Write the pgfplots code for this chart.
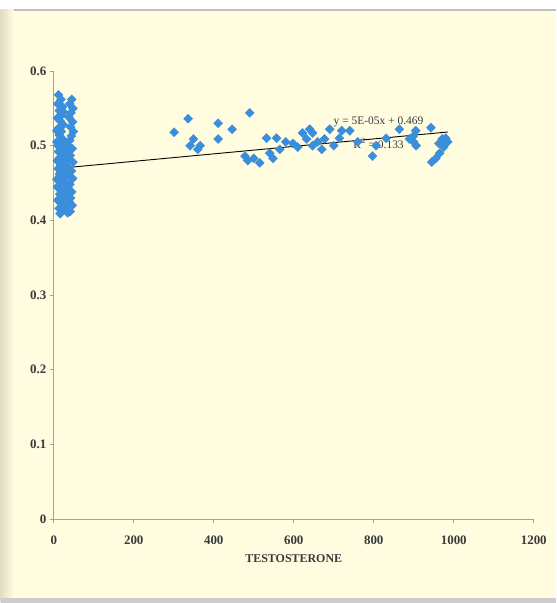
\documentclass[border=0pt]{standalone}
\usepackage{pgfplots}
\pgfplotsset{compat=1.18}
\usepackage{fontspec}
\setmainfont{Liberation Serif}

\definecolor{bgcol}{HTML}{FFFCE0}
\definecolor{ptblue}{HTML}{3A8EDB}
\definecolor{axgrey}{HTML}{A0A0A0}
\definecolor{txt}{HTML}{3A3A3A}

\begin{document}
\begin{tikzpicture}
% page background (scanned slide look)
\fill[bgcol] (-53bp,-84bp) rectangle (502bp,519bp);
\fill[white] (-53bp,510bp) rectangle (502bp,519bp);
\draw[line width=1.5bp, black!25] (-53bp,509bp) -- (502bp,509bp);
\shade[left color=black!12!bgcol, right color=bgcol] (-53bp,-84bp) rectangle (-40bp,509bp);
\fill[black!20] (-53bp,-84bp) rectangle (502bp,-79bp);

\begin{axis}[%
width=480bp,
height=448bp,
at={(0,0)},
scale only axis,
xmin=0,
xmax=1200,
ymin=0,
ymax=0.6,
xtick={0,200,...,1200},
ytick={0,0.1,...,0.6},
yticklabels={0,0.1,0.2,0.3,0.4,0.5,0.6},
xticklabel style={/pgf/number format/1000 sep={}, yshift=-9bp},
axis x line*=bottom,
axis y line*=left,
axis line style={axgrey, line width=0.8pt},
tick style={axgrey, line width=0.8pt},
tick align=outside,
major tick length=4bp,
tick label style={font=\fontsize{13}{15}\selectfont\bfseries, text=txt},
/pgf/number format/assume math mode=true,
xlabel={\textbf{TESTOSTERONE}},
xlabel style={font=\fontsize{12}{14}\selectfont, text=txt, yshift=-3bp},
]
% low group
\addplot[only marks, mark=square*, mark size=3.2pt, mark options={rotate=45, ptblue, draw=ptblue}] coordinates {
(12,0.568) (18,0.562) (10,0.556) (22,0.552) (14,0.547) (20,0.541) (9,0.537)
(16,0.533) (24,0.528) (11,0.523) (19,0.519) (14,0.514) (22,0.509) (8,0.505)
(17,0.500) (25,0.496) (12,0.492) (20,0.488) (15,0.484) (9,0.480) (23,0.477)
(18,0.473) (11,0.469) (26,0.466) (14,0.462) (21,0.458) (8,0.455) (17,0.451)
(24,0.447) (12,0.443) (19,0.439) (15,0.435) (22,0.431) (10,0.427) (18,0.423)
(25,0.420) (13,0.416) (20,0.412) (16,0.409) (25,0.545) (8,0.520) (26,0.490)
(9,0.445) (26,0.432) (11,0.500) (24,0.470)
(45,0.562) (40,0.556) (48,0.550) (43,0.544) (38,0.538) (47,0.532) (42,0.525)
(49,0.519) (44,0.513) (40,0.507) (36,0.500) (46,0.496) (32,0.492) (41,0.487)
(35,0.482) (48,0.478) (30,0.474) (38,0.470) (44,0.466) (33,0.461) (47,0.456)
(29,0.452) (40,0.448) (36,0.443) (45,0.438) (31,0.434) (42,0.430) (38,0.425)
(46,0.420) (33,0.416) (41,0.412) (35,0.410) (28,0.505) (30,0.465) (34,0.440)
};
% high group
\addplot[only marks, mark=square*, mark size=3.2pt, mark options={rotate=45, ptblue, draw=ptblue}] coordinates {
(301,0.518) (336,0.536) (341,0.500) (349,0.509) (366,0.500) (360,0.495)
(411,0.530) (411,0.509) (446,0.522) (490,0.544) (478,0.486) (485,0.480)
(500,0.483) (515,0.477) (540,0.490) (532,0.510) (557,0.510) (548,0.483)
(565,0.495) (580,0.505) (598,0.503) (610,0.498) (622,0.517) (632,0.509)
(640,0.522) (647,0.517) (647,0.500) (660,0.505) (677,0.509) (670,0.495)
(690,0.522) (700,0.500) (714,0.510) (720,0.520) (740,0.520) (760,0.505)
(797,0.486) (806,0.500) (831,0.510) (864,0.522) (889,0.509) (898,0.512)
(900,0.505) (905,0.520) (906,0.500) (943,0.524) (945,0.478) (955,0.483)
(963,0.503) (965,0.490) (971,0.509) (975,0.498) (980,0.510) (985,0.505)
};
% linear trend y = 5E-05x + 0.469
\addplot[black, line width=0.9pt] coordinates {(8,0.4694) (985,0.5183)};
\node[font=\fontsize{11.5}{13}\selectfont, text=txt] at (axis cs:812,0.532) {y = 5E-05x + 0.469};
\node[font=\fontsize{11.5}{13}\selectfont, text=txt] at (axis cs:812,0.503) {R$^{2}$ = 0.133};
\end{axis}
\end{tikzpicture}
\end{document}
